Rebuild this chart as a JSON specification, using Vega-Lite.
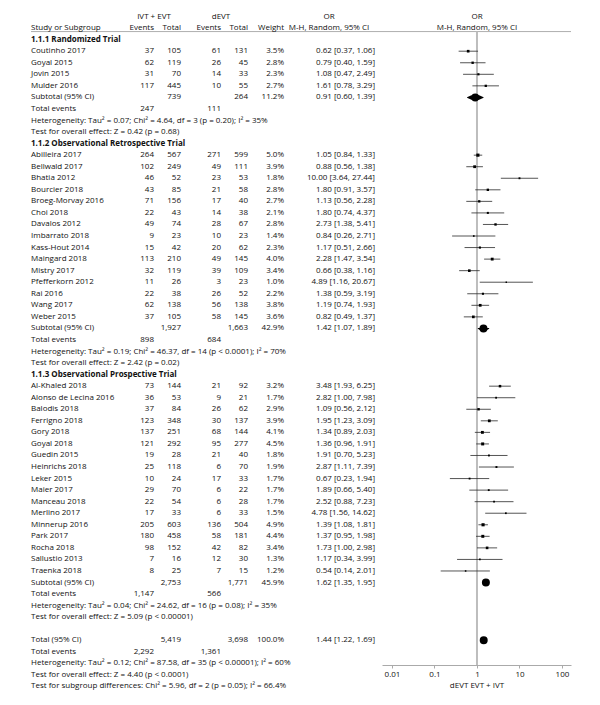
{
"$schema": "https://vega.github.io/schema/vega-lite/v6.json",
"background": "white",
"padding": {"left": 30, "top": 5, "right": 0, "bottom": 0},
"bounds": "flush",
"spacing": 0,
"resolve": {"scale": {"x": "independent", "y": "independent"}},
"datasets": {
"d": [
{"row": 2, "label": "Study or Subgroup", "kind": "head"},
{"row": 3, "label": "1.1.1 Randomized Trial", "kind": "group"},
{"row": 4, "label": "Coutinho 2017", "kind": "study", "e1": 37, "t1": 105, "e2": 61, "t2": 131, "w": 0.035, "ci": "0.62 [0.37, 1.06]", "or": 0.62, "lo": 0.37, "hi": 1.06},
{"row": 5, "label": "Goyal 2015", "kind": "study", "e1": 62, "t1": 119, "e2": 26, "t2": 45, "w": 0.028, "ci": "0.79 [0.40, 1.59]", "or": 0.79, "lo": 0.40, "hi": 1.59},
{"row": 6, "label": "Jovin 2015", "kind": "study", "e1": 31, "t1": 70, "e2": 14, "t2": 33, "w": 0.023, "ci": "1.08 [0.47, 2.49]", "or": 1.08, "lo": 0.47, "hi": 2.49},
{"row": 7, "label": "Mulder 2016", "kind": "study", "e1": 117, "t1": 445, "e2": 10, "t2": 55, "w": 0.027, "ci": "1.61 [0.78, 3.29]", "or": 1.61, "lo": 0.78, "hi": 3.29},
{"row": 8, "label": "Subtotal (95% CI)", "kind": "sub", "t1": 739, "t2": 264, "w": 0.112, "ci": "0.91 [0.60, 1.39]", "or": 0.91, "lo": 0.60, "hi": 1.39},
{"row": 9, "label": "Total events", "kind": "events", "e1": 247, "e2": 111},
{"row": 10, "label": "Heterogeneity: Tau² = 0.07; Chi² = 4.64, df = 3 (p = 0.20); I² = 35%", "kind": "note"},
{"row": 11, "label": "Test for overall effect: Z = 0.42 (p = 0.68)", "kind": "note"},
{"row": 12, "label": "1.1.2 Observational Retrospective Trial", "kind": "group"},
{"row": 13, "label": "Abilleira 2017", "kind": "study", "e1": 264, "t1": 567, "e2": 271, "t2": 599, "w": 0.050, "ci": "1.05 [0.84, 1.33]", "or": 1.05, "lo": 0.84, "hi": 1.33},
{"row": 14, "label": "Bellwald 2017", "kind": "study", "e1": 102, "t1": 249, "e2": 49, "t2": 111, "w": 0.039, "ci": "0.88 [0.56, 1.38]", "or": 0.88, "lo": 0.56, "hi": 1.38},
{"row": 15, "label": "Bhatia 2012", "kind": "study", "e1": 46, "t1": 52, "e2": 23, "t2": 53, "w": 0.018, "ci": "10.00 [3.64, 27.44]", "or": 10.0, "lo": 3.64, "hi": 27.44},
{"row": 16, "label": "Bourcier 2018", "kind": "study", "e1": 43, "t1": 85, "e2": 21, "t2": 58, "w": 0.028, "ci": "1.80 [0.91, 3.57]", "or": 1.80, "lo": 0.91, "hi": 3.57},
{"row": 17, "label": "Broeg-Morvay 2016", "kind": "study", "e1": 71, "t1": 156, "e2": 17, "t2": 40, "w": 0.027, "ci": "1.13 [0.56, 2.28]", "or": 1.13, "lo": 0.56, "hi": 2.28},
{"row": 18, "label": "Choi 2018", "kind": "study", "e1": 22, "t1": 43, "e2": 14, "t2": 38, "w": 0.021, "ci": "1.80 [0.74, 4.37]", "or": 1.80, "lo": 0.74, "hi": 4.37},
{"row": 19, "label": "Davalos 2012", "kind": "study", "e1": 49, "t1": 74, "e2": 28, "t2": 67, "w": 0.028, "ci": "2.73 [1.38, 5.41]", "or": 2.73, "lo": 1.38, "hi": 5.41},
{"row": 20, "label": "Imbarrato 2018", "kind": "study", "e1": 9, "t1": 23, "e2": 10, "t2": 23, "w": 0.014, "ci": "0.84 [0.26, 2.71]", "or": 0.84, "lo": 0.26, "hi": 2.71},
{"row": 21, "label": "Kass-Hout 2014", "kind": "study", "e1": 15, "t1": 42, "e2": 20, "t2": 62, "w": 0.023, "ci": "1.17 [0.51, 2.66]", "or": 1.17, "lo": 0.51, "hi": 2.66},
{"row": 22, "label": "Maingard 2018", "kind": "study", "e1": 113, "t1": 210, "e2": 49, "t2": 145, "w": 0.040, "ci": "2.28 [1.47, 3.54]", "or": 2.28, "lo": 1.47, "hi": 3.54},
{"row": 23, "label": "Mistry 2017", "kind": "study", "e1": 32, "t1": 119, "e2": 39, "t2": 109, "w": 0.034, "ci": "0.66 [0.38, 1.16]", "or": 0.66, "lo": 0.38, "hi": 1.16},
{"row": 24, "label": "Pfefferkorn 2012", "kind": "study", "e1": 11, "t1": 26, "e2": 3, "t2": 23, "w": 0.010, "ci": "4.89 [1.16, 20.67]", "or": 4.89, "lo": 1.16, "hi": 20.67},
{"row": 25, "label": "Rai 2016", "kind": "study", "e1": 22, "t1": 38, "e2": 26, "t2": 52, "w": 0.022, "ci": "1.38 [0.59, 3.19]", "or": 1.38, "lo": 0.59, "hi": 3.19},
{"row": 26, "label": "Wang 2017", "kind": "study", "e1": 62, "t1": 138, "e2": 56, "t2": 138, "w": 0.038, "ci": "1.19 [0.74, 1.93]", "or": 1.19, "lo": 0.74, "hi": 1.93},
{"row": 27, "label": "Weber 2015", "kind": "study", "e1": 37, "t1": 105, "e2": 58, "t2": 145, "w": 0.036, "ci": "0.82 [0.49, 1.37]", "or": 0.82, "lo": 0.49, "hi": 1.37},
{"row": 28, "label": "Subtotal (95% CI)", "kind": "sub", "t1": 1927, "t2": 1663, "w": 0.429, "ci": "1.42 [1.07, 1.89]", "or": 1.42, "lo": 1.07, "hi": 1.89},
{"row": 29, "label": "Total events", "kind": "events", "e1": 898, "e2": 684},
{"row": 30, "label": "Heterogeneity: Tau² = 0.19; Chi² = 46.37, df = 14 (p < 0.0001); I² = 70%", "kind": "note"},
{"row": 31, "label": "Test for overall effect: Z = 2.42 (p = 0.02)", "kind": "note"},
{"row": 32, "label": "1.1.3 Observational Prospective Trial", "kind": "group"},
{"row": 33, "label": "Al-Khaled 2018", "kind": "study", "e1": 73, "t1": 144, "e2": 21, "t2": 92, "w": 0.032, "ci": "3.48 [1.93, 6.25]", "or": 3.48, "lo": 1.93, "hi": 6.25},
{"row": 34, "label": "Alonso de Lecina 2016", "kind": "study", "e1": 36, "t1": 53, "e2": 9, "t2": 21, "w": 0.017, "ci": "2.82 [1.00, 7.98]", "or": 2.82, "lo": 1.00, "hi": 7.98},
{"row": 35, "label": "Balodis 2018", "kind": "study", "e1": 37, "t1": 84, "e2": 26, "t2": 62, "w": 0.029, "ci": "1.09 [0.56, 2.12]", "or": 1.09, "lo": 0.56, "hi": 2.12},
{"row": 36, "label": "Ferrigno 2018", "kind": "study", "e1": 123, "t1": 348, "e2": 30, "t2": 137, "w": 0.039, "ci": "1.95 [1.23, 3.09]", "or": 1.95, "lo": 1.23, "hi": 3.09},
{"row": 37, "label": "Gory 2018", "kind": "study", "e1": 137, "t1": 251, "e2": 68, "t2": 144, "w": 0.041, "ci": "1.34 [0.89, 2.03]", "or": 1.34, "lo": 0.89, "hi": 2.03},
{"row": 38, "label": "Goyal 2018", "kind": "study", "e1": 121, "t1": 292, "e2": 95, "t2": 277, "w": 0.045, "ci": "1.36 [0.96, 1.91]", "or": 1.36, "lo": 0.96, "hi": 1.91},
{"row": 39, "label": "Guedin 2015", "kind": "study", "e1": 19, "t1": 28, "e2": 21, "t2": 40, "w": 0.018, "ci": "1.91 [0.70, 5.23]", "or": 1.91, "lo": 0.70, "hi": 5.23},
{"row": 40, "label": "Heinrichs 2018", "kind": "study", "e1": 25, "t1": 118, "e2": 6, "t2": 70, "w": 0.019, "ci": "2.87 [1.11, 7.39]", "or": 2.87, "lo": 1.11, "hi": 7.39},
{"row": 41, "label": "Leker 2015", "kind": "study", "e1": 10, "t1": 24, "e2": 17, "t2": 33, "w": 0.017, "ci": "0.67 [0.23, 1.94]", "or": 0.67, "lo": 0.23, "hi": 1.94},
{"row": 42, "label": "Maier 2017", "kind": "study", "e1": 29, "t1": 70, "e2": 6, "t2": 22, "w": 0.017, "ci": "1.89 [0.66, 5.40]", "or": 1.89, "lo": 0.66, "hi": 5.40},
{"row": 43, "label": "Manceau 2018", "kind": "study", "e1": 22, "t1": 54, "e2": 6, "t2": 28, "w": 0.017, "ci": "2.52 [0.88, 7.23]", "or": 2.52, "lo": 0.88, "hi": 7.23},
{"row": 44, "label": "Merlino 2017", "kind": "study", "e1": 17, "t1": 33, "e2": 6, "t2": 33, "w": 0.015, "ci": "4.78 [1.56, 14.62]", "or": 4.78, "lo": 1.56, "hi": 14.62},
{"row": 45, "label": "Minnerup 2016", "kind": "study", "e1": 205, "t1": 603, "e2": 136, "t2": 504, "w": 0.049, "ci": "1.39 [1.08, 1.81]", "or": 1.39, "lo": 1.08, "hi": 1.81},
{"row": 46, "label": "Park 2017", "kind": "study", "e1": 180, "t1": 458, "e2": 58, "t2": 181, "w": 0.044, "ci": "1.37 [0.95, 1.98]", "or": 1.37, "lo": 0.95, "hi": 1.98},
{"row": 47, "label": "Rocha 2018", "kind": "study", "e1": 98, "t1": 152, "e2": 42, "t2": 82, "w": 0.034, "ci": "1.73 [1.00, 2.98]", "or": 1.73, "lo": 1.00, "hi": 2.98},
{"row": 48, "label": "Sallustio 2013", "kind": "study", "e1": 7, "t1": 16, "e2": 12, "t2": 30, "w": 0.013, "ci": "1.17 [0.34, 3.99]", "or": 1.17, "lo": 0.34, "hi": 3.99},
{"row": 49, "label": "Traenka 2018", "kind": "study", "e1": 8, "t1": 25, "e2": 7, "t2": 15, "w": 0.012, "ci": "0.54 [0.14, 2.01]", "or": 0.54, "lo": 0.14, "hi": 2.01},
{"row": 50, "label": "Subtotal (95% CI)", "kind": "sub", "t1": 2753, "t2": 1771, "w": 0.459, "ci": "1.62 [1.35, 1.95]", "or": 1.62, "lo": 1.35, "hi": 1.95},
{"row": 51, "label": "Total events", "kind": "events", "e1": 1147, "e2": 566},
{"row": 52, "label": "Heterogeneity: Tau² = 0.04; Chi² = 24.62, df = 16 (p = 0.08); I² = 35%", "kind": "note"},
{"row": 53, "label": "Test for overall effect: Z = 5.09 (p < 0.00001)", "kind": "note"},
{"row": 55, "label": "Total (95% CI)", "kind": "sub", "t1": 5419, "t2": 3698, "w": 1.0, "ci": "1.44 [1.22, 1.69]", "or": 1.44, "lo": 1.22, "hi": 1.69},
{"row": 56, "label": "Total events", "kind": "events", "e1": 2292, "e2": 1361},
{"row": 57, "label": "Heterogeneity: Tau² = 0.12; Chi² = 87.58, df = 35 (p < 0.00001); I² = 60%", "kind": "note"},
{"row": 58, "label": "Test for overall effect: Z = 4.40 (p < 0.0001)", "kind": "note"},
{"row": 59, "label": "Test for subgroup differences: Chi² = 5.96, df = 2 (p = 0.05); I² = 66.4%", "kind": "note"}
],
"hr": [
{"row": 2, "col": "e1", "text": "Events"},
{"row": 2, "col": "t1", "text": "Total"},
{"row": 2, "col": "e2", "text": "Events"},
{"row": 2, "col": "t2", "text": "Total"},
{"row": 2, "col": "w", "text": "Weight"}
],
"hc": [
{"row": 1, "col": "e1", "text": "IVT + EVT"},
{"row": 1, "col": "e2", "text": "dEVT"},
{"row": 1, "col": "ci", "text": "OR"},
{"row": 2, "col": "ci", "text": "M-H, Random, 95% CI"},
{"row": 1, "col": "plot", "text": "OR"},
{"row": 2, "col": "plot", "text": "M-H, Random, 95% CI"}
],
"line": [{"what": "header rule"}]
},
"hconcat": [
{
"width": 90, "height": 693,
"layer": [
{"data": {"name": "line"}, "mark": {"type": "rule", "color": "#999999", "strokeWidth": 0.8},
 "encoding": {"y": {"datum": 2.3, "type": "quantitative", "scale": {"domain": [0, 60], "reverse": true}, "axis": null}}},
{"data": {"name": "d"}, "transform": [{"filter": "datum.kind !== 'group'"}],
 "mark": {"type": "text", "align": "left"},
 "encoding": {"x": {"datum": 0, "type": "quantitative", "scale": {"domain": [0, 1]}, "axis": null},
  "y": {"field": "row", "type": "quantitative", "scale": {"domain": [0, 60], "reverse": true}, "axis": null},
  "text": {"field": "label"}}},
{"data": {"name": "d"}, "transform": [{"filter": "datum.kind === 'group'"}],
 "mark": {"type": "text", "align": "left", "fontWeight": "bold"},
 "encoding": {"x": {"datum": 0, "type": "quantitative", "scale": {"domain": [0, 1]}, "axis": null},
  "y": {"field": "row", "type": "quantitative", "scale": {"domain": [0, 60], "reverse": true}, "axis": null},
  "text": {"field": "label"}}}
]
},
{
"width": 33, "height": 693,
"layer": [
{"data": {"name": "line"}, "mark": {"type": "rule", "color": "#999999", "strokeWidth": 0.8},
 "encoding": {"y": {"datum": 2.3, "type": "quantitative", "scale": {"domain": [0, 60], "reverse": true}, "axis": null}}},
{"data": {"name": "d"}, "transform": [{"filter": "isValid(datum.e1)"}],
 "mark": {"type": "text", "align": "right"},
 "encoding": {"x": {"datum": 1, "type": "quantitative", "scale": {"domain": [0, 1]}, "axis": null},
  "y": {"field": "row", "type": "quantitative", "scale": {"domain": [0, 60], "reverse": true}, "axis": null},
  "text": {"field": "e1", "type": "quantitative", "format": ","}}},
{"data": {"name": "hr"}, "transform": [{"filter": "datum.col === 'e1'"}],
 "mark": {"type": "text", "align": "right"},
 "encoding": {"x": {"datum": 1, "type": "quantitative", "scale": {"domain": [0, 1]}, "axis": null},
  "y": {"field": "row", "type": "quantitative", "scale": {"domain": [0, 60], "reverse": true}, "axis": null},
  "text": {"field": "text"}}},
{"data": {"name": "hc"}, "transform": [{"filter": "datum.col === 'e1'"}],
 "mark": {"type": "text", "align": "center"},
 "encoding": {"x": {"datum": 1, "type": "quantitative", "scale": {"domain": [0, 1]}, "axis": null},
  "y": {"field": "row", "type": "quantitative", "scale": {"domain": [0, 60], "reverse": true}, "axis": null},
  "text": {"field": "text"}}}
]
},
{
"width": 27, "height": 693,
"layer": [
{"data": {"name": "line"}, "mark": {"type": "rule", "color": "#999999", "strokeWidth": 0.8},
 "encoding": {"y": {"datum": 2.3, "type": "quantitative", "scale": {"domain": [0, 60], "reverse": true}, "axis": null}}},
{"data": {"name": "d"}, "transform": [{"filter": "isValid(datum.t1)"}],
 "mark": {"type": "text", "align": "right"},
 "encoding": {"x": {"datum": 1, "type": "quantitative", "scale": {"domain": [0, 1]}, "axis": null},
  "y": {"field": "row", "type": "quantitative", "scale": {"domain": [0, 60], "reverse": true}, "axis": null},
  "text": {"field": "t1", "type": "quantitative", "format": ","}}},
{"data": {"name": "hr"}, "transform": [{"filter": "datum.col === 't1'"}],
 "mark": {"type": "text", "align": "right"},
 "encoding": {"x": {"datum": 1, "type": "quantitative", "scale": {"domain": [0, 1]}, "axis": null},
  "y": {"field": "row", "type": "quantitative", "scale": {"domain": [0, 60], "reverse": true}, "axis": null},
  "text": {"field": "text"}}}
]
},
{
"width": 40, "height": 693,
"layer": [
{"data": {"name": "line"}, "mark": {"type": "rule", "color": "#999999", "strokeWidth": 0.8},
 "encoding": {"y": {"datum": 2.3, "type": "quantitative", "scale": {"domain": [0, 60], "reverse": true}, "axis": null}}},
{"data": {"name": "d"}, "transform": [{"filter": "isValid(datum.e2)"}],
 "mark": {"type": "text", "align": "right"},
 "encoding": {"x": {"datum": 1, "type": "quantitative", "scale": {"domain": [0, 1]}, "axis": null},
  "y": {"field": "row", "type": "quantitative", "scale": {"domain": [0, 60], "reverse": true}, "axis": null},
  "text": {"field": "e2", "type": "quantitative", "format": ","}}},
{"data": {"name": "hr"}, "transform": [{"filter": "datum.col === 'e2'"}],
 "mark": {"type": "text", "align": "right"},
 "encoding": {"x": {"datum": 1, "type": "quantitative", "scale": {"domain": [0, 1]}, "axis": null},
  "y": {"field": "row", "type": "quantitative", "scale": {"domain": [0, 60], "reverse": true}, "axis": null},
  "text": {"field": "text"}}},
{"data": {"name": "hc"}, "transform": [{"filter": "datum.col === 'e2'"}],
 "mark": {"type": "text", "align": "center"},
 "encoding": {"x": {"datum": 1, "type": "quantitative", "scale": {"domain": [0, 1]}, "axis": null},
  "y": {"field": "row", "type": "quantitative", "scale": {"domain": [0, 60], "reverse": true}, "axis": null},
  "text": {"field": "text"}}}
]
},
{
"width": 27, "height": 693,
"layer": [
{"data": {"name": "line"}, "mark": {"type": "rule", "color": "#999999", "strokeWidth": 0.8},
 "encoding": {"y": {"datum": 2.3, "type": "quantitative", "scale": {"domain": [0, 60], "reverse": true}, "axis": null}}},
{"data": {"name": "d"}, "transform": [{"filter": "isValid(datum.t2)"}],
 "mark": {"type": "text", "align": "right"},
 "encoding": {"x": {"datum": 1, "type": "quantitative", "scale": {"domain": [0, 1]}, "axis": null},
  "y": {"field": "row", "type": "quantitative", "scale": {"domain": [0, 60], "reverse": true}, "axis": null},
  "text": {"field": "t2", "type": "quantitative", "format": ","}}},
{"data": {"name": "hr"}, "transform": [{"filter": "datum.col === 't2'"}],
 "mark": {"type": "text", "align": "right"},
 "encoding": {"x": {"datum": 1, "type": "quantitative", "scale": {"domain": [0, 1]}, "axis": null},
  "y": {"field": "row", "type": "quantitative", "scale": {"domain": [0, 60], "reverse": true}, "axis": null},
  "text": {"field": "text"}}}
]
},
{
"width": 36, "height": 693,
"layer": [
{"data": {"name": "line"}, "mark": {"type": "rule", "color": "#999999", "strokeWidth": 0.8},
 "encoding": {"y": {"datum": 2.3, "type": "quantitative", "scale": {"domain": [0, 60], "reverse": true}, "axis": null}}},
{"data": {"name": "d"}, "transform": [{"filter": "isValid(datum.w)"}],
 "mark": {"type": "text", "align": "right"},
 "encoding": {"x": {"datum": 1, "type": "quantitative", "scale": {"domain": [0, 1]}, "axis": null},
  "y": {"field": "row", "type": "quantitative", "scale": {"domain": [0, 60], "reverse": true}, "axis": null},
  "text": {"field": "w", "type": "quantitative", "format": ".1%"}}},
{"data": {"name": "hr"}, "transform": [{"filter": "datum.col === 'w'"}],
 "mark": {"type": "text", "align": "right"},
 "encoding": {"x": {"datum": 1, "type": "quantitative", "scale": {"domain": [0, 1]}, "axis": null},
  "y": {"field": "row", "type": "quantitative", "scale": {"domain": [0, 60], "reverse": true}, "axis": null},
  "text": {"field": "text"}}}
]
},
{
"width": 98, "height": 693,
"layer": [
{"data": {"name": "line"}, "mark": {"type": "rule", "color": "#999999", "strokeWidth": 0.8},
 "encoding": {"y": {"datum": 2.3, "type": "quantitative", "scale": {"domain": [0, 60], "reverse": true}, "axis": null}}},
{"data": {"name": "d"}, "transform": [{"filter": "isValid(datum.ci)"}],
 "mark": {"type": "text", "align": "right", "dx": -7},
 "encoding": {"x": {"datum": 1, "type": "quantitative", "scale": {"domain": [0, 1]}, "axis": null},
  "y": {"field": "row", "type": "quantitative", "scale": {"domain": [0, 60], "reverse": true}, "axis": null},
  "text": {"field": "ci"}}},
{"data": {"name": "hc"}, "transform": [{"filter": "datum.col === 'ci'"}],
 "mark": {"type": "text", "align": "center", "dx": -4},
 "encoding": {"x": {"datum": 0.5, "type": "quantitative", "scale": {"domain": [0, 1]}, "axis": null},
  "y": {"field": "row", "type": "quantitative", "scale": {"domain": [0, 60], "reverse": true}, "axis": null},
  "text": {"field": "text"}}}
]
},
{
"width": 189, "height": 660,
"layer": [
{"data": {"name": "line"}, "mark": {"type": "rule", "color": "#999999", "strokeWidth": 0.8},
 "encoding": {"y": {"datum": 2.3, "type": "quantitative", "scale": {"domain": [0, 57.14], "reverse": true}, "axis": null}}},
{"data": {"name": "line"}, "mark": {"type": "rule", "color": "#bdbdbd", "strokeWidth": 2},
 "encoding": {
  "x": {"datum": 1, "type": "quantitative", "scale": {"type": "log", "domain": [0.00582, 163], "nice": false}, "axis": {"values": [0.01, 0.1, 1, 10, 100], "format": "~g"}, "title": "dEVT EVT + IVT"},
  "y": {"datum": 2.3, "type": "quantitative", "scale": {"domain": [0, 57.14], "reverse": true}, "axis": null},
  "y2": {"datum": 57.14}}},
{"data": {"name": "d"}, "transform": [{"filter": "datum.kind === 'study'"}],
 "mark": {"type": "rule", "color": "#2a2a2a", "strokeWidth": 0.8},
 "encoding": {
  "x": {"field": "lo", "type": "quantitative", "scale": {"type": "log", "domain": [0.00582, 163], "nice": false}, "axis": {"values": [0.01, 0.1, 1, 10, 100], "format": "~g"}, "title": "dEVT EVT + IVT"},
  "x2": {"field": "hi"},
  "y": {"field": "row", "type": "quantitative", "scale": {"domain": [0, 57.14], "reverse": true}, "axis": null}}},
{"data": {"name": "d"}, "transform": [{"filter": "datum.kind === 'study'"}],
 "mark": {"type": "point", "shape": "square", "filled": true, "color": "#000000", "opacity": 1},
 "encoding": {
  "x": {"field": "or", "type": "quantitative", "scale": {"type": "log", "domain": [0.00582, 163], "nice": false}, "axis": {"values": [0.01, 0.1, 1, 10, 100], "format": "~g"}, "title": "dEVT EVT + IVT"},
  "y": {"field": "row", "type": "quantitative", "scale": {"domain": [0, 57.14], "reverse": true}, "axis": null},
  "size": {"field": "w", "type": "quantitative", "scale": {"domain": [0, 0.05], "range": [0, 10]}, "legend": null}}},
{"data": {"name": "d"}, "transform": [{"filter": "datum.kind === 'sub'"}, {"fold": ["lo", "or", "hi"], "as": ["pt", "xv"]}],
 "mark": {"type": "trail", "color": "#000000"},
 "encoding": {
  "x": {"field": "xv", "type": "quantitative", "scale": {"type": "log", "domain": [0.00582, 163], "nice": false}, "axis": {"values": [0.01, 0.1, 1, 10, 100], "format": "~g"}, "title": "dEVT EVT + IVT"},
  "y": {"field": "row", "type": "quantitative", "scale": {"domain": [0, 57.14], "reverse": true}, "axis": null},
  "detail": {"field": "row", "type": "nominal"},
  "size": {"condition": {"test": "datum.pt === 'or'", "value": 8}, "value": 0}}},
{"data": {"name": "hc"}, "transform": [{"filter": "datum.col === 'plot'"}],
 "mark": {"type": "text", "align": "center"},
 "encoding": {
  "x": {"datum": 1, "type": "quantitative", "scale": {"type": "log", "domain": [0.00582, 163], "nice": false}, "axis": {"values": [0.01, 0.1, 1, 10, 100], "format": "~g"}, "title": "dEVT EVT + IVT"},
  "y": {"field": "row", "type": "quantitative", "scale": {"domain": [0, 57.14], "reverse": true}, "axis": null},
  "text": {"field": "text"}}}
]
}
],
"config": {
"view": {"stroke": null},
"text": {"font": "Open Sans", "fontSize": 8, "baseline": "middle", "fill": "#111111"},
"axis": {"labelFont": "Open Sans", "titleFont": "Open Sans", "labelFontSize": 8, "titleFontSize": 8, "titleFontWeight": "normal", "labelColor": "#111111", "titleColor": "#111111", "domainColor": "#aaaaaa", "tickColor": "#aaaaaa", "tickSize": 3, "labelPadding": 2, "titlePadding": 3, "grid": false}
}
}
